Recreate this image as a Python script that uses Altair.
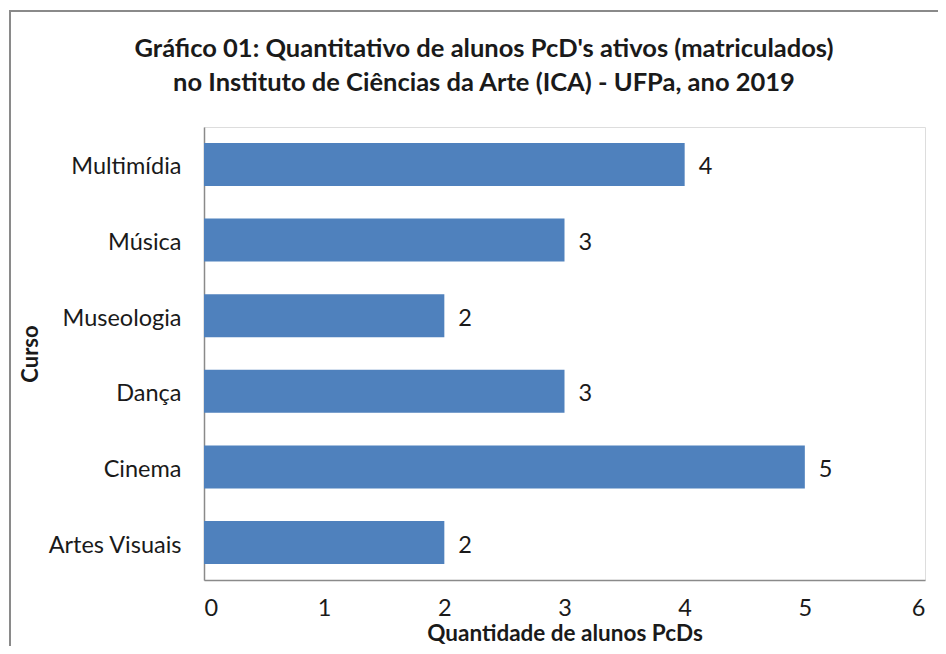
import altair as alt
import pandas as pd

cursos = ["Multimídia", "Música", "Museologia", "Dança", "Cinema", "Artes Visuais"]
alunos = [4, 3, 2, 3, 5, 2]
x_ticks = [0, 1, 2, 3, 4, 5, 6]
titulo = [
    "Gráfico 01: Quantitativo de alunos PcD's ativos (matriculados)",
    "no Instituto de Ciências da Arte (ICA) - UFPa, ano 2019",
]

df = pd.DataFrame({"Curso": cursos, "Alunos": alunos})
title_df = pd.DataFrame({"t": ["\n".join(titulo)]})

FONT = "Lato"
TXT = "#1a1a1a"
GRAY = "#8a8a8a"
FS = 23.5

y_enc = alt.Y(
    "Curso:N",
    sort=cursos,
    scale=alt.Scale(paddingInner=0.43, paddingOuter=0.21),
    axis=alt.Axis(
        title="Curso", titleFont=FONT, titleFontSize=22, titleFontWeight="bold",
        titleColor=TXT, titleAngle=-90, titleX=-174, titleY=226.5,
        titleAlign="center", titleBaseline="middle",
        labelFont=FONT, labelFontSize=FS, labelColor=TXT, labelPadding=23,
        labelOffset=3, ticks=False, domainColor=GRAY, domainWidth=1.5,
    ),
)
x_enc = alt.X(
    "Alunos:Q",
    scale=alt.Scale(domain=[0, 6], nice=False),
    axis=alt.Axis(
        values=x_ticks, format="d",
        title="Quantidade de alunos PcDs", titleFont=FONT, titleFontSize=22.5,
        titleFontWeight="bold", titleColor=TXT, titleX=360.5, titleY=53,
        titleAlign="center", titleBaseline="middle",
        labelFont=FONT, labelFontSize=FS, labelColor=TXT, labelPadding=16,
        ticks=False, grid=False, domainColor=GRAY, domainWidth=1.5,
    ),
)

bars = alt.Chart(df).mark_bar(color="#4F81BD").encode(x=x_enc, y=y_enc)
labels = alt.Chart(df).mark_text(
    align="left", baseline="middle", dx=14, dy=3, font=FONT, fontSize=FS, color=TXT
).encode(x="Alunos:Q", y=alt.Y("Curso:N", sort=cursos), text="Alunos:Q")
border = alt.Chart(df).mark_rect(
    fill=None, stroke=GRAY, strokeWidth=2, clip=False
).encode(
    x=alt.value(-194), x2=alt.value(900), y=alt.value(-116), y2=alt.value(700)
)
title_mark = alt.Chart(title_df).mark_text(
    align="center", baseline="alphabetic", font=FONT, fontSize=25.5,
    fontWeight="bold", color=TXT, lineBreak="\n", lineHeight=34,
).encode(x=alt.value(280), y=alt.value(-70), text="t:N")

chart = alt.layer(border, bars, labels, title_mark).properties(
    width=721, height=453,
    autosize=alt.AutoSizeParams(type="none"),
    padding={"left": 196, "top": 119, "right": 13, "bottom": 66},
).configure_view(stroke=None).configure(background="white")

chart.save("out.html", embed_options={"renderer": "svg", "actions": False})
